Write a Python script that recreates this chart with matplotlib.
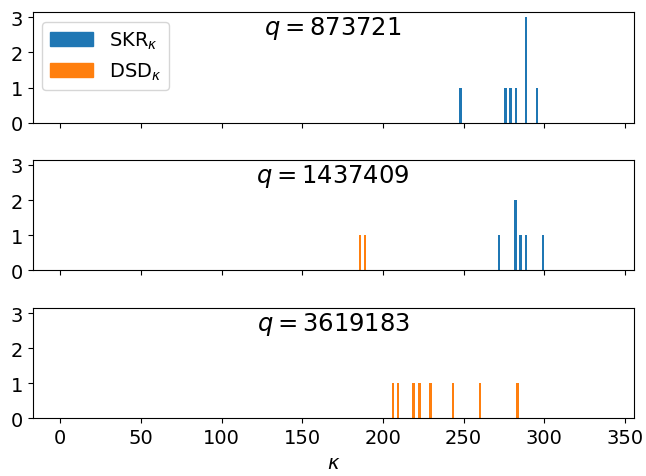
import matplotlib.pyplot as plt
import numpy as np
from matplotlib.patches import Patch

# kappa values, with counts
q_values = [873721, 1437409, 3619183]

skr_kappa = [
    [248.3, 275.7, 278.8, 282.5, 288.7, 295.5],
    [271.9, 282.3, 285.5, 288.6, 299.2],
    [],
]
skr_count = [
    [1, 1, 1, 1, 3, 1],
    [1, 2, 1, 1, 1],
    [],
]
dsd_kappa = [
    [],
    [185.8, 188.9],
    [206.2, 209.3, 219.2, 222.9, 229.7, 243.4, 260.1, 283.6],
]
dsd_count = [
    [],
    [1, 1],
    [1, 1, 1, 1, 1, 1, 1, 1],
]

blue, orange = "#1f77b4", "#ff7f0e"

fig = plt.figure(figsize=(6.46, 4.77), dpi=100)
left, width = 0.0506, 0.9304
boxes = [(0.7407, 0.2320), (0.4312, 0.2319), (0.1210, 0.2312)]
axes = []
for i, (b, h) in enumerate(boxes):
    ax = fig.add_axes([left, b, width, h], sharex=axes[0] if axes else None,
                      sharey=axes[0] if axes else None)
    axes.append(ax)

for i, ax in enumerate(axes):
    ax.bar(skr_kappa[i], skr_count[i], width=1.75, color=blue, linewidth=0)
    ax.bar(dsd_kappa[i], dsd_count[i], width=1.75, color=orange, linewidth=0)
    ax.text(0.5, 0.86, r"$q = %d$" % q_values[i], transform=ax.transAxes,
            ha="center", va="center", fontsize=17.5)
    ax.set_yticks([0, 1, 2, 3])
    ax.tick_params(labelsize=14)
    if i < 2:
        ax.tick_params(labelbottom=False)

axes[0].set_xlim(-17, 355.4)
axes[0].set_ylim(0, 3.15)
axes[0].set_xticks(np.arange(0, 351, 50))
handles = [Patch(color=blue, label=r"SKR$_\kappa$"),
           Patch(color=orange, label=r"DSD$_\kappa$")]
axes[0].legend(handles=handles, loc="upper left", fontsize=14, handlelength=2.2)
axes[2].set_xlabel(r"$\kappa$", fontsize=14)

fig.savefig("out.png", dpi=100)
